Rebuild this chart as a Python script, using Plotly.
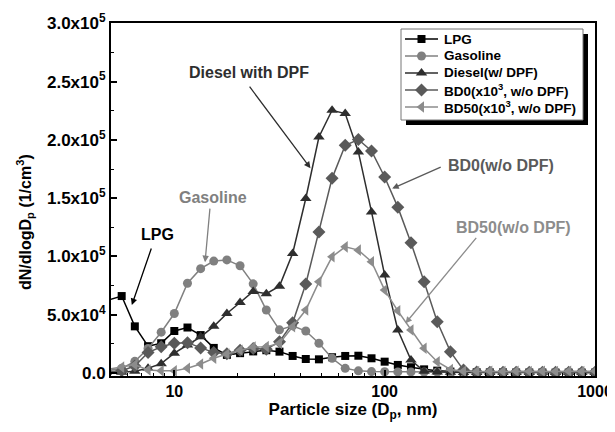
import numpy as np
import plotly.graph_objects as go

# Particle diameter channels (nm)
diam = [4.75, 5.62, 6.49, 7.50, 8.66, 10.0, 11.55, 13.34, 15.40, 17.78, 20.54, 23.71,
        27.38, 31.62, 36.52, 42.17, 48.70, 56.23, 64.94, 74.99, 86.60, 100.0, 115.5,
        133.4, 154.0, 177.8, 205.4, 237.1, 273.8, 316.2, 365.2, 421.7, 487.0, 562.3,
        649.4, 749.9, 866.0, 1000.0]

lpg = [62000, 66000, 40000, 23000, 25500, 36000, 39000, 32500, 21500, 15500, 17000, 18500,
       19500, 18300, 14600, 12000, 11700, 13500, 14600, 14800, 12600, 9700, 6900,
       4900, 3100, 2000, 1200, 800, 600, 500, 500, 400, 400, 400,
       300, 300, 300, 300]
gasoline = [2000, 4000, 10000, 21000, 35000, 51000, 77000, 89500, 96000, 97000, 92000, 76500,
            54000, 37000, 40500, 36000, 25500, 12600, 4000, 1800, 1200, 1000, 900,
            900, 800, 800, 800, 800, 700, 700, 700, 700, 700, 700,
            700, 700, 700, 700]
diesel = [300, 600, 1500, 4000, 8000, 17000, 24000, 31000, 40000, 51000, 60500, 70000,
          68000, 74500, 102600, 149700, 202500, 225400, 222600, 189700, 138200, 84000, 36900,
          11100, 1500, 800, 600, 500, 500, 500, 500, 500, 500, 500,
          500, 500, 500, 500]
bd0 = [800, 2000, 6000, 17500, 22500, 25500, 26000, 21500, 17500, 16500, 19500, 21000,
       20300, 26800, 43000, 76300, 121000, 167000, 195400, 200300, 190500, 168200, 142300,
       111800, 78200, 44000, 18300, 2500, 800, 700, 700, 700, 700, 700,
       700, 700, 700, 700]
bd50 = [3000, 5000, 7000, 2500, 1800, 1800, 4000, 7700, 12600, 16300, 19500, 22300,
        22600, 25400, 39700, 54000, 78200, 99700, 108200, 105400, 95400, 71100, 53300,
        36900, 21200, 9700, 3000, 1500, 1200, 1500, 1200, 1500, 1200, 1500,
        1200, 1500, 1200, 1500]

names = ["LPG", "Gasoline", "Diesel(w/ DPF)",
         "BD0(x10<sup>3</sup>, w/o DPF)", "BD50(x10<sup>3</sup>, w/o DPF)"]
values = [lpg, gasoline, diesel, bd0, bd50]
colors = ["#000000", "#808080", "#2e2e2e", "#5a5a5a", "#8c8c8c"]
symbols = ["square", "circle", "triangle-up", "diamond", "triangle-left"]
msizes = [8, 9, 10, 10, 10]

yticks = [0, 50000, 100000, 150000, 200000, 250000, 300000]
yticktext = ["0.0", "5.0x10<sup>4</sup>", "1.0x10<sup>5</sup>", "1.5x10<sup>5</sup>",
             "2.0x10<sup>5</sup>", "2.5x10<sup>5</sup>", "3.0x10<sup>5</sup>"]
xticks = [10, 100, 1000]

FONT = "Liberation Sans, Arial, sans-serif"
# page body has an 8px margin: figure is offset by (8, 8) in the window
OFF = 8
W, H = 615 - OFF, 432 - OFF
PL, PR, PT, PB = 111, 595, 23, 376          # plot area in window pixels
L, T = PL - OFF, PT - OFF
R, B = W - (PR - OFF), H - (PB - OFF)
pw, ph = PR - PL, PB - PT


def px(xp):
    return (xp - PL) / pw


def py(yp):
    return (PB - yp) / ph


fig = go.Figure()
for name, vals, col, sym, sz in zip(names, values, colors, symbols, msizes):
    fig.add_trace(go.Scatter(
        x=diam, y=vals, name=name, mode="lines+markers", showlegend=False,
        line=dict(color=col, width=1.5),
        marker=dict(symbol=sym, size=sz, color=col, line=dict(width=0)),
    ))

# custom legend (drawn on a hidden overlay axis in paper-like units)
leg_y = [39, 56, 73, 90, 107]
for name, col, sym, sz, ly in zip(names, colors, symbols, msizes, leg_y):
    fig.add_trace(go.Scatter(
        x=[px(405), px(421.5), px(438)], y=[py(ly)] * 3, xaxis="x2", yaxis="y2",
        mode="lines", line=dict(color=col, width=1.5), showlegend=False, hoverinfo="skip"))
    fig.add_trace(go.Scatter(
        x=[px(421.5)], y=[py(ly)], xaxis="x2", yaxis="y2", mode="markers",
        marker=dict(symbol=sym, size=sz, color=col), showlegend=False, hoverinfo="skip"))
    fig.add_annotation(text=name, xref="paper", yref="paper", x=px(442), y=py(ly),
                       xanchor="left", yanchor="middle", showarrow=False,
                       font=dict(family=FONT, size=13.5, color="#000", weight="bold"))

fig.add_shape(type="rect", xref="paper", yref="paper",
              x0=px(406), x1=px(588), y0=py(125), y1=py(34),
              fillcolor="#000", line=dict(width=0), layer="below")
fig.add_shape(type="rect", xref="paper", yref="paper",
              x0=px(401), x1=px(583), y0=py(120), y1=py(29),
              fillcolor="#fff", line=dict(width=1, color="#777"), layer="below")

fig.update_xaxes(
    type="log", range=[np.log10(5), 3], automargin=False,
    tickvals=xticks, ticktext=[str(v) for v in xticks],
    ticks="inside", ticklen=6, tickwidth=1.5, tickcolor="#000",
    minor=dict(tickvals=[v * m for v in (1, 10, 100) for m in range(2, 10) if v * m >= 5],
               ticks="inside", ticklen=3, tickwidth=1, tickcolor="#000"),
    showline=True, linewidth=2, linecolor="#000", mirror=True,
    showgrid=False, zeroline=False,
    tickfont=dict(family=FONT, size=16, color="#000", weight="bold"),
    title=dict(text="Particle size (D<sub>p</sub>, nm)",
               font=dict(family=FONT, size=17, color="#000", weight="bold"), standoff=4),
)
fig.update_yaxes(
    range=[-2600, 300300], automargin=False,
    tickvals=yticks, ticktext=yticktext,
    ticks="inside", ticklen=6, tickwidth=1.5, tickcolor="#000",
    minor=dict(dtick=25000, tick0=0, ticks="inside", ticklen=3, tickwidth=1, tickcolor="#000"),
    showline=True, linewidth=2, linecolor="#000", mirror=True,
    showgrid=False, zeroline=False,
    tickfont=dict(family=FONT, size=17, color="#000", weight="bold"),
)

# y-axis title as a rotated annotation (sits lower than the plot centre in the original)
fig.add_annotation(text="dN/dlogD<sub>p</sub> (1/cm<sup>3</sup>)", xref="paper", yref="paper",
                   x=px(25), y=py(222), xanchor="center", yanchor="middle", textangle=-90,
                   showarrow=False, font=dict(family=FONT, size=16, color="#000", weight="bold"))

fig.update_layout(
    width=W, height=H, margin=dict(l=L, r=R, t=T, b=B),
    paper_bgcolor="white", plot_bgcolor="white",
    showlegend=False,
    xaxis2=dict(overlaying="x", anchor="y2", range=[0, 1], visible=False, fixedrange=True),
    yaxis2=dict(overlaying="y", anchor="x2", range=[0, 1], visible=False, fixedrange=True),
    font=dict(family=FONT),
)

# text labels
labels = [
    ("LPG", 157, 235, "#000000"),
    ("Gasoline", 213, 197, "#808080"),
    ("Diesel with DPF", 249, 73, "#2e2e2e"),
    ("BD0(w/o DPF)", 501, 165, "#5a5a5a"),
    ("BD50(w/o DPF)", 513, 227, "#8c8c8c"),
]
for t, xx, yy, c in labels:
    fig.add_annotation(text=t, xref="paper", yref="paper", x=px(xx), y=py(yy),
                       xanchor="center", yanchor="middle", showarrow=False,
                       font=dict(family=FONT, size=16, color=c, weight="bold"))

# arrows: tip (data) and tail offset in pixels
arrows = [
    (6.28, 58300, 20, -58, "#000000"),
    (14.0, 95100, 5, -55, "#808080"),
    (44.4, 175700, -62, -83, "#2e2e2e"),
    (108.6, 158300, 50, -22, "#5a5a5a"),
    (125.6, 42600, 72, -87, "#8c8c8c"),
]
for xt, yt, ax, ay, c in arrows:
    fig.add_annotation(x=np.log10(xt), y=yt, xref="x", yref="y", text="",
                       showarrow=True, ax=ax, ay=ay, arrowhead=2, arrowsize=1,
                       arrowwidth=1.3, arrowcolor=c)

fig.write_html("out.html")
